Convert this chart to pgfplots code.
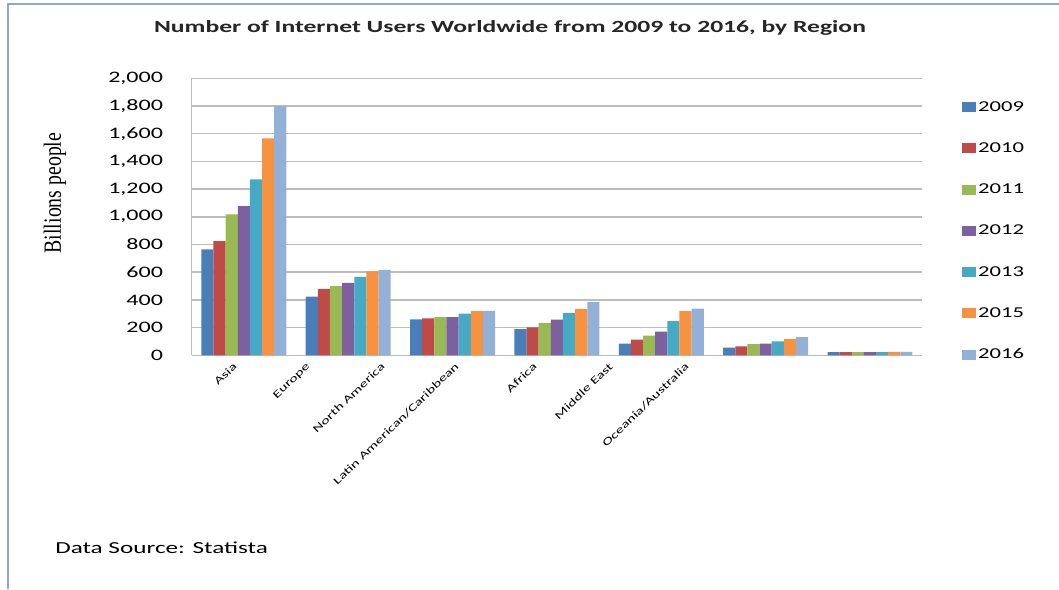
\documentclass[border=0pt]{standalone}
\usepackage{pgfplots}
\pgfplotsset{compat=1.18}
\usepackage{fontspec}
\setmainfont{Carlito}[FakeStretch=1.5]
\newfontfamily\seriffont{Liberation Serif}
\definecolor{c09}{HTML}{4A7EBB}
\definecolor{c10}{HTML}{BE4B48}
\definecolor{c11}{HTML}{98B954}
\definecolor{c12}{HTML}{7D60A0}
\definecolor{c13}{HTML}{46AAC5}
\definecolor{c15}{HTML}{F69240}
\definecolor{c16}{HTML}{93B1D6}
\definecolor{gridgray}{HTML}{BDBDBD}
\definecolor{bordercol}{HTML}{8FA8C8}
\begin{document}
\begin{tikzpicture}[x=1pt,y=1pt]
\path[use as bounding box] (0,0) rectangle (794.25,441.75);
\draw[bordercol, line width=1.2pt] (6,0) -- (6,438.75) -- (794.25,438.75);
\node[font=\bfseries\fontsize{12.8}{14}\selectfont, text=black!85] at (382.5,420.75) {Number of Internet Users Worldwide from 2009 to 2016, by Region};
\node[rotate=90, font=\seriffont\fontsize{14.85}{16}\selectfont] at (41.25,297) {\scalebox{1}[1.25]{Billions people}};
\node[anchor=west, font=\fontsize{12.6}{14}\selectfont, inner sep=0pt] at (41.25,30.75) {Data Source: Statista};
\begin{axis}[
  at={(183.65,168.75)}, anchor=south west,
  scale only axis, width=547.9pt, height=207.75pt,
  xmin=-0.5, xmax=6.5, ymin=0, ymax=2000,
  ybar=0pt, bar width=0.1163,
  ytick={0,200,...,2000},
  xtick={-0.109,0.591,1.309,2.018,2.766,3.494,4.222},
  xticklabels={Asia,Europe,North America,Latin American/Caribbean,Africa,Middle East,Oceania/Australia},
  x tick label style={rotate=44, anchor=north east, font=\fontsize{8}{9}\selectfont},
  y tick label style={font=\fontsize{12}{13}\selectfont, xshift=-18pt},
  /pgf/number format/assume math mode=true,
  scaled y ticks=false,
  major tick length=0pt,
  axis x line*=bottom, axis y line*=left,
  axis line style={-, draw=gridgray, line width=1.1pt},
  ymajorgrids, grid style={gridgray, line width=1.1pt},
  legend style={at={(1.048,0.937)}, anchor=north west, draw=none, fill=none,
    row sep=18.1pt, font=\fontsize{11.3}{12}\selectfont},
  legend cell align=left,
]
\addplot[fill=c09, draw=none, legend image code/.code={\fill[c09] (0pt,-3.75pt) rectangle (10.5pt,3.75pt);}] coordinates {(0,764) (1,424) (2,260) (3,188) (4,85) (5,55) (6,22)};
\addplot[fill=c10, draw=none, legend image code/.code={\fill[c10] (0pt,-3.75pt) rectangle (10.5pt,3.75pt);}] coordinates {(0,824) (1,479) (2,267) (3,202) (4,113) (5,65) (6,22)};
\addplot[fill=c11, draw=none, legend image code/.code={\fill[c11] (0pt,-3.75pt) rectangle (10.5pt,3.75pt);}] coordinates {(0,1017) (1,499) (2,275) (3,234) (4,142) (5,80) (6,23)};
\addplot[fill=c12, draw=none, legend image code/.code={\fill[c12] (0pt,-3.75pt) rectangle (10.5pt,3.75pt);}] coordinates {(0,1077) (1,523) (2,275) (3,258) (4,171) (5,85) (6,23)};
\addplot[fill=c13, draw=none, legend image code/.code={\fill[c13] (0pt,-3.75pt) rectangle (10.5pt,3.75pt);}] coordinates {(0,1270) (1,566) (2,301) (3,306) (4,246) (5,101) (6,23)};
\addplot[fill=c15, draw=none, legend image code/.code={\fill[c15] (0pt,-3.75pt) rectangle (10.5pt,3.75pt);}] coordinates {(0,1566) (1,605) (2,318) (3,335) (4,318) (5,116) (6,24)};
\addplot[fill=c16, draw=none, legend image code/.code={\fill[c16] (0pt,-3.75pt) rectangle (10.5pt,3.75pt);}] coordinates {(0,1800) (1,617) (2,320) (3,383) (4,337) (5,132) (6,24)};
\legend{2009,2010,2011,2012,2013,2015,2016}
\end{axis}
\end{tikzpicture}
\end{document}
